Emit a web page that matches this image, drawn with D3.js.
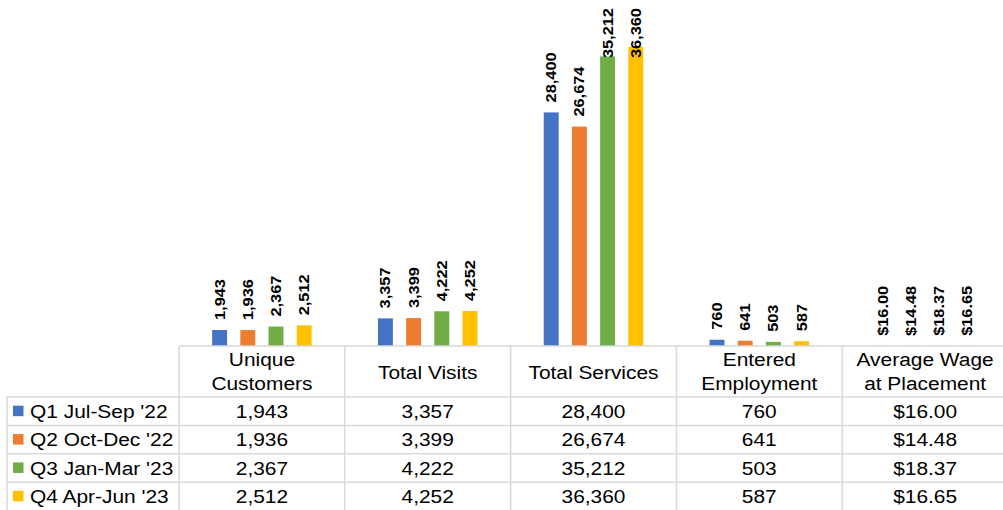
<!DOCTYPE html>
<html>
<head>
<meta charset="utf-8">
<script src="https://cdn.jsdelivr.net/npm/d3@7"></script>
<style>
  html, body { margin: 0; padding: 0; background: #fff; }
  svg { display: block; font-family: "Liberation Sans", Arial, sans-serif; }
</style>
</head>
<body>
<div id="chart"></div>
<script>
// ---- data ----
const categories = ["Unique\nCustomers", "Total Visits", "Total Services", "Entered\nEmployment", "Average Wage\nat Placement"];
const seriesNames = ["Q1 Jul-Sep '22", "Q2 Oct-Dec '22", "Q3 Jan-Mar '23", "Q4 Apr-Jun '23"];
const q1 = [1943, 3357, 28400, 760, 16.00];
const q2 = [1936, 3399, 26674, 641, 14.48];
const q3 = [2367, 4222, 35212, 503, 18.37];
const q4 = [2512, 4252, 36360, 587, 16.65];
const currencyCategory = [false, false, false, false, true];
const colors = ["#4472C4", "#ED7D31", "#70AD47", "#FFC000"];

const seriesValues = [q1, q2, q3, q4];

// ---- layout ----
const W = 1003, H = 510;
const baseY = 346, headerBottom = 397, tableBottom = 510.5;
const tableLeft = 179, tableRight = 1008, legendLeft = 7;

const svg = d3.select("#chart").append("svg").attr("width", W).attr("height", H);

const x = d3.scaleBand().domain(categories).range([tableLeft, tableRight]);
const xi = d3.scaleBand().domain(seriesNames).range([0, x.bandwidth()]).paddingInner(0.47).paddingOuter(1.175);
const y = d3.scaleLinear().domain([0, 40000]).range([baseY, 17]);
const rowY = d3.scaleBand().domain(seriesNames).range([headerBottom, tableBottom]);

const fmtNum = d3.format(",");
const fmtCur = d3.format("$.2f");
const fmt = (v, ci) => currencyCategory[ci] ? fmtCur(v) : fmtNum(v);

// ---- bars ----
const groups = svg.append("g").selectAll("g").data(categories).join("g")
  .attr("transform", d => `translate(${x(d)},0)`);

const barData = (c, ci) => seriesNames.map((s, si) => ({ s, si, ci, v: seriesValues[si][ci] }));

groups.selectAll("rect").data((c, ci) => barData(c, ci)).join("rect")
  .attr("x", d => xi(d.s))
  .attr("width", xi.bandwidth())
  .attr("y", d => y(d.v))
  .attr("height", d => baseY - y(d.v))
  .attr("fill", d => colors[d.si]);

// ---- data labels (rotated) ----
const labelScale = 1.17;
const labels = groups.selectAll("text.lbl").data((c, ci) => barData(c, ci)).join("text")
  .attr("class", "lbl")
  .attr("font-size", 14)
  .attr("font-weight", "bold")
  .attr("fill", "#000")
  .attr("dy", "0.36em")
  .attr("text-anchor", "start")
  .text(d => fmt(d.v, d.ci));

labels.each(function(d) {
  const len = this.getComputedTextLength() * labelScale;
  let start = y(d.v) - 10;
  if (start - len < 8) start = 8 + len;
  const cx = xi(d.s) + xi.bandwidth() / 2;
  d3.select(this).attr("transform", `translate(${cx},${start}) rotate(-90) scale(${labelScale},1)`);
});

// ---- table ----
const grid = svg.append("g").attr("stroke", "#d9d9d9").attr("stroke-width", 1.5).attr("fill", "none");
grid.append("line").attr("x1", tableLeft).attr("x2", W).attr("y1", baseY).attr("y2", baseY);
seriesNames.forEach(s => {
  grid.append("line").attr("x1", legendLeft).attr("x2", W).attr("y1", rowY(s)).attr("y2", rowY(s));
});
grid.append("line").attr("x1", legendLeft).attr("x2", legendLeft).attr("y1", headerBottom).attr("y2", H);
categories.forEach(c => {
  grid.append("line").attr("x1", x(c)).attr("x2", x(c)).attr("y1", baseY).attr("y2", H);
});

const textScale = 1.1;
const tfs = 19;

// header
const hdr = svg.append("g").attr("font-size", tfs).attr("fill", "#000").attr("text-anchor", "middle");
categories.forEach(c => {
  const lines = c.split("\n");
  const cx = x(c) + x.bandwidth() / 2;
  const baselines = lines.length === 1 ? [379] : [366, 390];
  lines.forEach((ln, i) => {
    hdr.append("text")
      .attr("transform", `translate(${cx},${baselines[i]}) scale(${textScale},1)`)
      .text(ln);
  });
});

// legend rows
const rows = svg.append("g").attr("font-size", tfs).attr("fill", "#000");
seriesNames.forEach((s, si) => {
  const cy = rowY(s) + rowY.bandwidth() / 2;
  rows.append("rect")
    .attr("x", 13).attr("y", cy - 5.5).attr("width", 10.5).attr("height", 10.5)
    .attr("fill", colors[si]);
  rows.append("text")
    .attr("transform", `translate(30,${cy + 6.8}) scale(${textScale},1)`)
    .text(s);
  categories.forEach((c, ci) => {
    rows.append("text")
      .attr("text-anchor", "middle")
      .attr("transform", `translate(${x(c) + x.bandwidth() / 2},${cy + 6.8}) scale(${textScale},1)`)
      .text(fmt(seriesValues[si][ci], ci));
  });
});
</script>
</body>
</html>
